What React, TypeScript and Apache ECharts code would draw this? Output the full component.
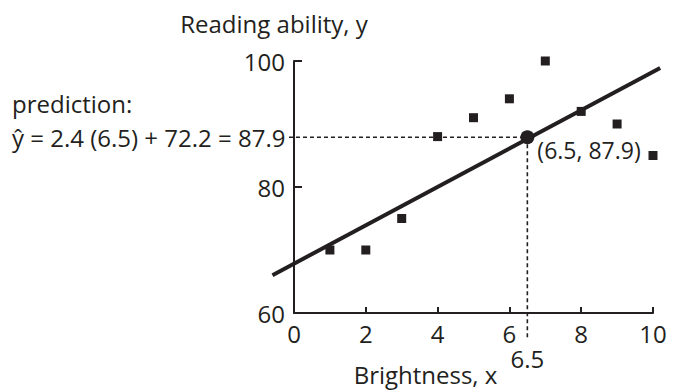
import React, { useEffect, useRef } from "react";
import * as echarts from "echarts";

// Brightness (x) vs reading ability (y) observations
const brightness = [1, 2, 3, 4, 5, 6, 7, 8, 9, 10];
const reading = [70, 70, 75, 88, 91, 94, 100, 92, 90, 85];

// Fitted line as drawn, from its left end to its right end
const fitX = [-0.6, 10.2];
const fitY = [66.0, 98.9];

// Prediction at x = 6.5
const predX = 6.5;
const predY = 87.9;

// Guide lines to the axes (horizontal starts just left of the y axis, vertical runs just below the x axis)
const guideLeftX = -0.14;
const guideBottomY = 56;

// Axis ranges and ticks
const xMin = 0;
const xMax = 10;
const xStep = 2;
const yMin = 60;
const yMax = 100;
const yStep = 20;

const INK = "#231f20";
const FONT = "Open Sans";
const FS = 24;

// Straight segments drawn through the axis scales, free to extend past the plot edge
const segments = [
  { from: [fitX[0], fitY[0]], to: [fitX[1], fitY[1]], width: 4, dash: null as number[] | null },
  { from: [guideLeftX, predY], to: [predX, predY], width: 1.6, dash: [4, 3] },
  { from: [predX, predY], to: [predX, guideBottomY], width: 1.6, dash: [4, 3] },
];

export default function App() {
  const ref = useRef<HTMLDivElement>(null);

  useEffect(() => {
    document.body.style.margin = "0";
    if (!ref.current) return;
    const chart = echarts.init(ref.current, null, { renderer: "svg" });

    const option: any = {
      animation: false,
      backgroundColor: "#ffffff",
      textStyle: { fontFamily: FONT, color: INK },
      grid: {
        left: 294,
        right: 22,
        top: 61,
        bottom: 78,
        containLabel: false,
        outerBoundsMode: "none",
      },
      xAxis: {
        type: "value",
        min: xMin,
        max: xMax,
        interval: xStep,
        name: "Brightness, x",
        nameLocation: "middle",
        nameGap: 49,
        nameTextStyle: { fontFamily: FONT, fontSize: FS, color: INK, padding: [0, 96, 0, 0] },
        axisLine: { lineStyle: { color: INK, width: 2 } },
        axisTick: { inside: true, length: 6, lineStyle: { color: INK, width: 2 } },
        axisLabel: { fontFamily: FONT, fontSize: FS, color: INK, margin: 8 },
        splitLine: { show: false },
      },
      yAxis: {
        type: "value",
        min: yMin,
        max: yMax,
        interval: yStep,
        name: "Reading ability, y",
        nameLocation: "end",
        nameGap: 26,
        nameTextStyle: { fontFamily: FONT, fontSize: FS, color: INK, padding: [0, 40, 0, 0] },
        axisLine: { lineStyle: { color: INK, width: 2 } },
        axisTick: { inside: true, length: 8, lineStyle: { color: INK, width: 2 } },
        axisLabel: { fontFamily: FONT, fontSize: FS, color: INK, margin: 9 },
        splitLine: { show: false },
      },
      series: [
        {
          type: "custom",
          clip: false,
          data: segments.map((_, i) => [i]),
          renderItem: (params: any, api: any) => {
            const s = segments[params.dataIndex];
            const a = api.coord(s.from);
            const b = api.coord(s.to);
            return {
              type: "line",
              shape: { x1: a[0], y1: a[1], x2: b[0], y2: b[1] },
              style: {
                stroke: INK,
                lineWidth: s.width,
                lineDash: s.dash || undefined,
                fill: null,
              },
            };
          },
          z: 2,
        },
        {
          // value of x marked under the vertical guide
          type: "custom",
          clip: false,
          data: [[predX, guideBottomY]],
          renderItem: (params: any, api: any) => {
            const p = api.coord([api.value(0), api.value(1)]);
            return {
              type: "text",
              x: p[0],
              y: p[1] + 8,
              style: {
                text: `${predX}`,
                fill: INK,
                font: `${FS}px "${FONT}"`,
                align: "center",
                verticalAlign: "top",
              },
            };
          },
          z: 3,
        },
        {
          type: "scatter",
          data: brightness.map((x, i) => [x, reading[i]]),
          symbol: "rect",
          symbolSize: 9,
          itemStyle: { color: INK, opacity: 1 },
          z: 4,
        },
        {
          type: "scatter",
          data: [[predX, predY]],
          symbol: "circle",
          symbolSize: 14,
          itemStyle: { color: INK, opacity: 1 },
          label: {
            show: true,
            formatter: `(${predX}, ${predY})`,
            position: "right",
            offset: [0, 13],
            distance: 3,
            fontFamily: FONT,
            fontSize: 23,
            color: INK,
          },
          z: 5,
        },
      ],
      graphic: [
        {
          type: "text",
          x: 12,
          y: 103,
          style: {
            text: "prediction:",
            font: `${FS}px "${FONT}"`,
            fill: INK,
            verticalAlign: "middle",
          },
        },
        {
          type: "text",
          x: 12,
          y: 137,
          style: {
            text: `ŷ = 2.4 (${predX}) + 72.2 = ${predY}`,
            font: `${FS}px "${FONT}"`,
            fill: INK,
            verticalAlign: "middle",
          },
        },
      ],
    };

    chart.setOption(option);
    return () => chart.dispose();
  }, []);

  return <div ref={ref} style={{ width: 675, height: 391 }} />;
}
